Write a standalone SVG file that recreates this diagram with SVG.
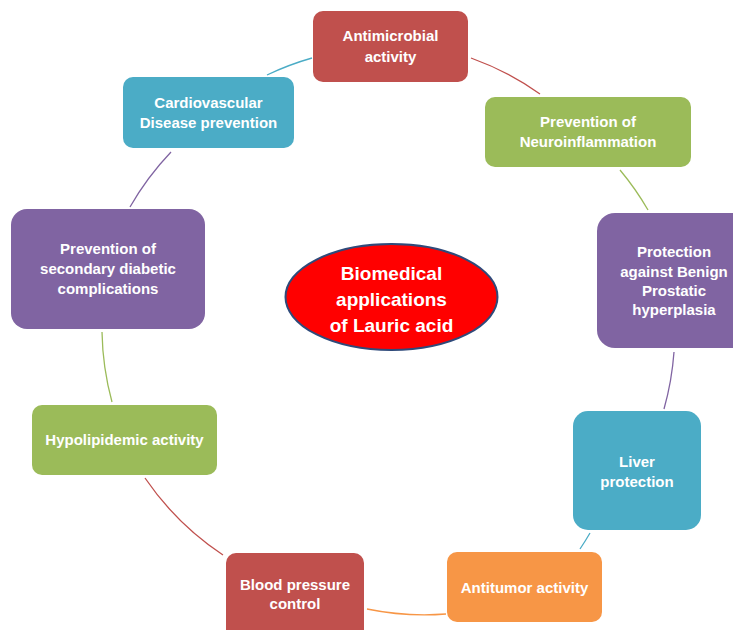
<svg xmlns="http://www.w3.org/2000/svg" width="733" height="630" viewBox="0 0 733 630">
<style>
.t{font-family:"Liberation Sans",Arial,sans-serif;font-weight:bold;font-size:15px;fill:#fff;text-anchor:middle}
.c{font-size:19px}
.red{fill:#C0504D}.grn{fill:#9BBB59}.pur{fill:#8064A2}.blu{fill:#4BACC6}.org{fill:#F79646}
#connectors path{fill:none;stroke-width:1.3}
</style>
<rect width="733" height="630" fill="#fff"/>
<g id="connectors">
<path d="M471,58 A285,285 0 0 1 540,94" stroke="#C0504D"/>
<path d="M620,170 A285,285 0 0 1 648,210" stroke="#9BBB59"/>
<path d="M674,352 A285,285 0 0 1 664,409" stroke="#8064A2"/>
<path d="M590,533 A285,285 0 0 1 580,549" stroke="#4BACC6"/>
<path d="M446,614 A285,285 0 0 1 367,609" stroke="#F79646"/>
<path d="M223,555 A285,285 0 0 1 145,478" stroke="#C0504D"/>
<path d="M112,402 A285,285 0 0 1 102,332" stroke="#9BBB59"/>
<path d="M130,207 A285,285 0 0 1 171,152" stroke="#8064A2"/>
<path d="M267,75 A285,285 0 0 1 312,58" stroke="#4BACC6"/>
</g>
<g id="center">
<ellipse cx="391.5" cy="297" rx="106" ry="53" fill="#FF0000" stroke="#2F4A7A" stroke-width="2"/>
<text class="t c" x="391.5" y="280">Biomedical</text>
<text class="t c" x="391.5" y="306">applications</text>
<text class="t c" x="391.5" y="332">of Lauric acid</text>
</g>
<g id="antimicrobial">
<rect class="red" x="313" y="11" width="155" height="71" rx="10"/>
<text class="t" x="390.5" y="41">Antimicrobial</text>
<text class="t" x="390.5" y="62">activity</text>
</g>
<g id="neuro">
<rect class="grn" x="485" y="97" width="206" height="70" rx="10"/>
<text class="t" x="588" y="127">Prevention of</text>
<text class="t" x="588" y="147">Neuroinflammation</text>
</g>
<g id="prostatic">
<rect class="pur" x="597" y="213" width="153" height="135" rx="18"/>
<text class="t" x="674" y="257">Protection</text>
<text class="t" x="674" y="277">against Benign</text>
<text class="t" x="674" y="296">Prostatic</text>
<text class="t" x="674" y="315">hyperplasia</text>
</g>
<g id="liver">
<rect class="blu" x="573" y="411" width="128" height="119" rx="15"/>
<text class="t" x="637" y="467">Liver</text>
<text class="t" x="637" y="487">protection</text>
</g>
<g id="antitumor">
<rect class="org" x="447" y="552" width="155" height="70" rx="10"/>
<text class="t" x="524.5" y="593">Antitumor activity</text>
</g>
<g id="blood">
<rect class="red" x="226" y="553" width="138" height="90" rx="10"/>
<text class="t" x="295" y="590">Blood pressure</text>
<text class="t" x="295" y="609">control</text>
</g>
<g id="hypo">
<rect class="grn" x="32" y="405" width="185" height="70" rx="10"/>
<text class="t" x="124.5" y="445">Hypolipidemic activity</text>
</g>
<g id="diabetic">
<rect class="pur" x="11" y="209" width="194" height="120" rx="16"/>
<text class="t" x="108" y="254">Prevention of</text>
<text class="t" x="108" y="274">secondary diabetic</text>
<text class="t" x="108" y="294">complications</text>
</g>
<g id="cardio">
<rect class="blu" x="123" y="77" width="171" height="71" rx="10"/>
<text class="t" x="208.5" y="108">Cardiovascular</text>
<text class="t" x="208.5" y="128">Disease prevention</text>
</g>
</svg>
